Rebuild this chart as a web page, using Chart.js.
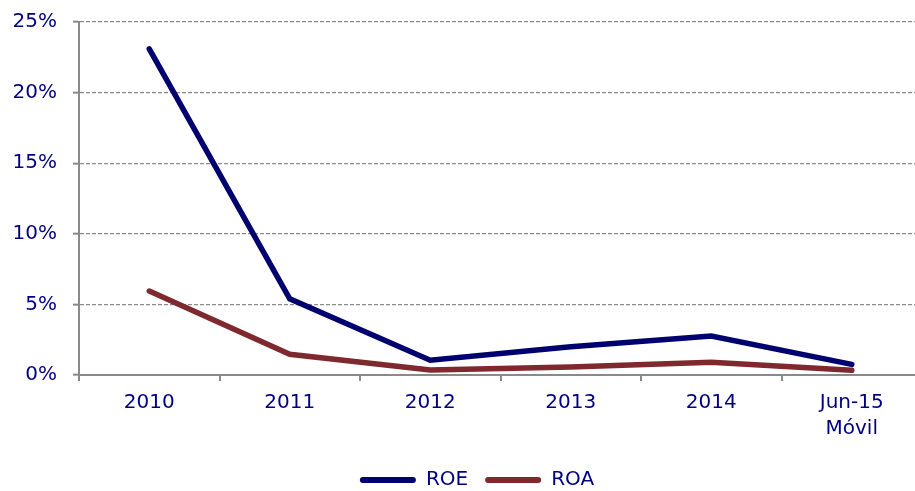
<!DOCTYPE html>
<html>
<head>
<meta charset="utf-8">
<script src="https://cdn.jsdelivr.net/npm/chart.js@4/dist/chart.umd.min.js"></script>
<style>
  html, body { margin: 0; padding: 0; background: #fff; }
  #wrap { position: relative; width: 915px; height: 491px; overflow: hidden; }
  #c { display: block; }
</style>
</head>
<body>
<div id="wrap"><canvas id="c" width="922" height="491"></canvas></div>
<script>
const categories = ['2010', '2011', '2012', '2013', '2014', ['Jun-15', 'Móvil']];
const roe = [0.231, 0.054, 0.0105, 0.020, 0.0276, 0.0075];
const roa = [0.0595, 0.0147, 0.0035, 0.0057, 0.009, 0.0033];
const yTicks = [0, 0.05, 0.10, 0.15, 0.20, 0.25];

const textColor = '#000080';
const axisGray = '#8a8a8a';
const font = { family: "'DejaVu Sans'", size: 20 };

// shift the legend to its place under the plot
const legendShift = {
  id: 'legendShift',
  afterLayout(chart) {
    const lg = chart.legend;
    lg.left += 16; lg.right += 16;
    lg.top += 9; lg.bottom += 9;
  }
};

new Chart(document.getElementById('c'), {
  type: 'line',
  data: {
    labels: categories,
    datasets: [
      { label: 'ROE', data: roe, borderColor: '#00006e', backgroundColor: '#00006e', borderWidth: 5.5, pointRadius: 0, tension: 0, borderCapStyle: 'round' },
      { label: 'ROA', data: roa, borderColor: '#7f282d', backgroundColor: '#7f282d', borderWidth: 5.5, pointRadius: 0, tension: 0, borderCapStyle: 'round' }
    ]
  },
  plugins: [legendShift],
  options: {
    responsive: false,
    animation: false,
    devicePixelRatio: 1,
    layout: { padding: { top: 22, left: 0, right: 0, bottom: 0 } },
    plugins: {
      tooltip: { enabled: false },
      legend: {
        position: 'bottom',
        labels: {
          color: textColor,
          font: font,
          boxWidth: 56,
          boxHeight: 6,
          padding: 17,
          useBorderRadius: true,
          borderRadius: 3,
          generateLabels: (chart) => chart.data.datasets.map((ds, i) => ({
            text: ds.label, fillStyle: ds.borderColor, strokeStyle: ds.borderColor,
            lineWidth: 0, fontColor: textColor, datasetIndex: i, hidden: false, borderRadius: 3
          }))
        }
      }
    },
    scales: {
      x: {
        offset: true,
        afterFit: (axis) => { axis.height = 69; },
        grid: { offset: true, drawOnChartArea: false, drawTicks: true, tickLength: 6, color: axisGray, tickColor: axisGray, lineWidth: 2 },
        border: { color: axisGray, width: 2 },
        ticks: { color: textColor, font: { ...font, lineHeight: 1.3 }, padding: 9, maxRotation: 0, autoSkip: false }
      },
      y: {
        min: 0, max: 0.25,
        afterFit: (axis) => { axis.width = 79; axis.paddingTop = 0; axis.paddingBottom = 0; },
        afterBuildTicks: (axis) => { axis.ticks = yTicks.map(v => ({ value: v })); },
        grid: { color: '#8c8c8c', lineWidth: 1.3, tickLength: 6, tickColor: axisGray, tickWidth: 2, tickBorderDash: [] },
        border: { color: axisGray, width: 2, dash: [4, 2] },
        ticks: { color: textColor, font: font, padding: 16, callback: (v) => Math.round(v * 100) + '%' }
      }
    }
  }
});
</script>
</body>
</html>
